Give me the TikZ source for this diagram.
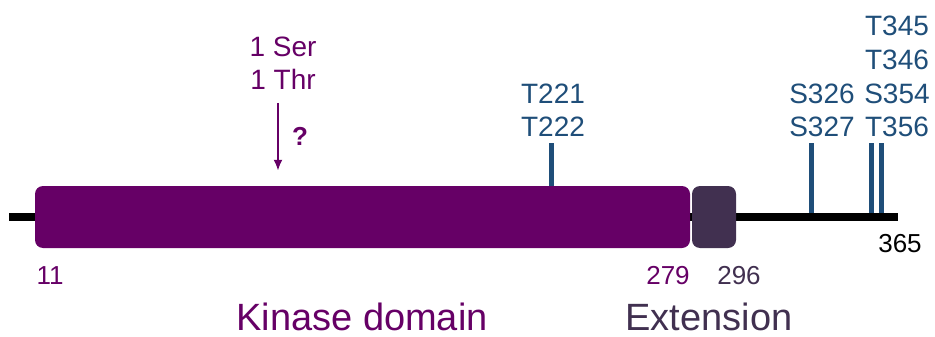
\documentclass[tikz,border=0pt]{standalone}
\usepackage{fontspec}
\setmainfont{Liberation Sans}
\usetikzlibrary{arrows.meta}
\definecolor{kinpurple}{RGB}{102,0,102}
\definecolor{extgrey}{RGB}{65,48,80}
\definecolor{siteblue}{RGB}{31,78,121}
\tikzset{domainbox/.style = {rectangle,rounded corners=8pt,minimum height=62pt,inner sep=0pt}}
\tikzset{sitelbl/.style = {text=siteblue,inner sep=0pt,align=center,text depth=0pt,
    font=\fontsize{28}{33.8}\selectfont}}
\tikzset{sitetick/.style = {siteblue,line width=5pt}}
\tikzset{poslbl/.style = {inner sep=0pt,anchor=base,font=\fontsize{26}{30}\selectfont}}
\tikzset{titlelbl/.style = {inner sep=0pt,anchor=base,text depth=0pt,font=\fontsize{38}{44}\selectfont}}
\tikzset{edge/.style = {->,> = {Latex[length=11pt,width=9pt]},kinpurple,line width=2pt}}

\begin{document}
\begin{tikzpicture}[x=1pt,y=-1pt]
      \useasboundingbox (0,0) rectangle (935,337);
      \coordinate (nterm) at (9,217);
      \coordinate (cterm) at (898,217);

      % phosphosites
      \node[sitelbl,anchor=south] (s221) at (553,137) {T221\\T222};
      \node[sitelbl,anchor=south] (s326) at (822,137) {S326\\S327};
      \node[sitelbl,anchor=south] (s345) at (897,137) {T345\\T346\\S354\\T356};
      \coordinate (t221) at (551,143);
      \coordinate (t326) at (811,143);
      \coordinate (t354) at (871,143);
      \coordinate (t356) at (881.5,143);
      \draw[sitetick] (t221) -- (t221 |- cterm);
      \draw[sitetick] (t326) -- (t326 |- cterm);
      \draw[sitetick] (t354) -- (t354 |- cterm);
      \draw[sitetick] (t356) -- (t356 |- cterm);

      % backbone and domains
      \draw[line width=8.5pt] (nterm) -- (cterm);
      \node[domainbox,fill=kinpurple,minimum width=655pt] (kinase) at (362.5,217) {};
      \node[domainbox,fill=extgrey,minimum width=44pt] (ext) at (714,217) {};

      % unknown site
      \node[sitelbl,text=kinpurple,anchor=south] (ser) at (283,90) {1 Ser\\1 Thr};
      \coordinate (arrtop) at (278,103);
      \draw[edge] (arrtop) to ([yshift=15pt]arrtop |- kinase.north);
      \node[inner sep=0pt,text=kinpurple,font=\fontsize{26}{30}\bfseries\selectfont] (q) at (300,136) {?};

      % residue numbers
      \node[poslbl,text=kinpurple] (p11) at (50,284) {11};
      \node[poslbl,text=kinpurple] (p279) at (668,284) {279};
      \node[poslbl,text=extgrey] (p296) at (739,284) {296};
      \node[poslbl] (p365) at (900,252) {365};

      \node[titlelbl,text=kinpurple] (kinlbl) at (362,330) {Kinase domain};
      \node[titlelbl,text=extgrey] (extlbl) at (709,330) {Extension};
    \end{tikzpicture}
\end{document}
